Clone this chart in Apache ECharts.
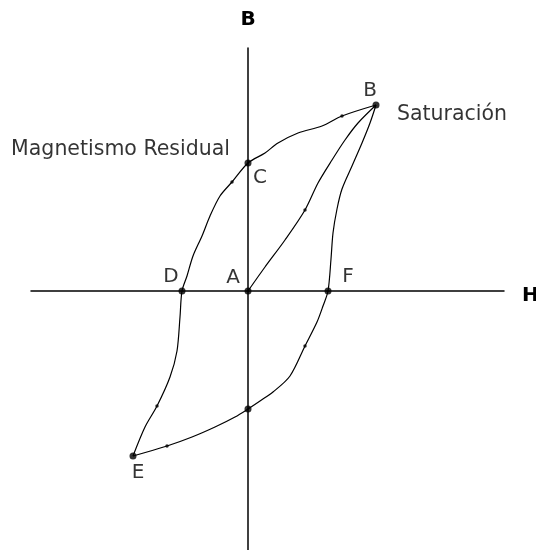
<!DOCTYPE html>
<html>
<head>
<meta charset="utf-8">
<script src="https://cdn.jsdelivr.net/npm/echarts@6/dist/echarts.min.js"></script>
<style>html,body{margin:0;padding:0;background:#fff}#c{width:536px;height:550px}</style>
</head>
<body>
<div id="c"></div>
<script>
// Axis names
const axisNameH = 'H';
const axisNameB = 'B';
// Curve branches, [H, B] in arbitrary units (origin at A)
const initialCurve = [[0,0],[17,24],[37,51],[57,81],[70,108],[84,131],[97,151],[110,168],[128,186]];
const descendingBranch = [[128,186],[94,175],[74,165],[50,158],[30,148],[17,138],[0,128],[-16,109],[-28,95],[-38,75],[-46,55],[-55,35],[-61,15],[-66,0],[-68,-26],[-71,-60],[-78,-86],[-91,-115],[-103,-136],[-115,-165]];
const ascendingBranch = [[-115,-165],[-81,-155],[-56,-146],[-33,-136],[-13,-126],[0,-118],[12,-110],[25,-101],[42,-85],[57,-55],[69,-31],[75,-15],[80,0],[83,32],[85,58],[89,82],[94,102],[104,125],[114,148],[122,168],[128,186]];
// Key points
const keyNames = ['A','B','C','D','E','F',''];
const keyPoints = [[0,0],[128,186],[0,128],[-66,0],[-115,-165],[80,0],[0,-118]];
// Small intermediate dots
const minorDots = [[94,175],[-16,109],[57,81],[-91,-115],[-81,-155],[57,-55]];
// Annotations
const annotationTexts = ['Saturación','Magnetismo Residual'];
const annotationPoints = [[128,186],[0,128]];

const labelOffsets = {A:[-15,-13],B:[-6,-14],C:[12,15],D:[-11,-14],E:[5,17],F:[20,-14]};
const font = '"DejaVu Sans", sans-serif';

const chart = echarts.init(document.getElementById('c'), null, {renderer:'canvas'});
const lineStyle = {color:'#000', width:1.2};
chart.setOption({
  animation:false,
  backgroundColor:'#fff',
  grid:{left:31,right:32,top:48,bottom:0,containLabel:false,outerBoundsMode:'none'},
  xAxis:{type:'value',min:-217,max:256,
    axisLine:{onZero:true,lineStyle:{color:'#000',width:1.5}},
    axisTick:{show:false},axisLabel:{show:false},splitLine:{show:false},
    name:'{h|' + axisNameH + '}',nameLocation:'end',nameGap:18,
    nameTextStyle:{verticalAlign:'middle',
      rich:{h:{fontFamily:font,fontWeight:'bold',fontSize:20,color:'#000',padding:[10,0,0,0]}}}},
  yAxis:{type:'value',min:-259,max:243,
    axisLine:{onZero:true,lineStyle:{color:'#000',width:1.5}},
    axisTick:{show:false},axisLabel:{show:false},splitLine:{show:false},
    name:axisNameB,nameLocation:'end',nameGap:18,
    nameTextStyle:{fontFamily:font,fontWeight:'bold',fontSize:20,color:'#000',align:'center'}},
  series:[
    {type:'line',data:initialCurve,smooth:0.3,showSymbol:false,lineStyle:lineStyle},
    {type:'line',data:descendingBranch,smooth:0.3,showSymbol:false,lineStyle:lineStyle},
    {type:'line',data:ascendingBranch,smooth:0.3,showSymbol:false,lineStyle:lineStyle},
    {type:'scatter',data:minorDots,symbolSize:3.5,itemStyle:{color:'#000'}},
    {type:'scatter',symbolSize:7,itemStyle:{color:'#000'},
      data:keyPoints.map((p,i)=>({value:p,name:keyNames[i],
        label:{show:!!keyNames[i],position:'inside',offset:labelOffsets[keyNames[i]]||[0,0],
          formatter:'{b}',fontFamily:font,fontSize:20,color:'#000'}}))},
    {type:'scatter',symbolSize:0,
      data:annotationPoints.map((p,i)=>({value:p,name:annotationTexts[i],
        label:{show:true,position:i===0?'right':'left',distance:i===0?21:18,offset:i===0?[0,10]:[0,-13],
          formatter:'{b}',fontFamily:font,fontSize:20.5,color:'#000'}}))}
  ]
});
</script>
</body>
</html>
